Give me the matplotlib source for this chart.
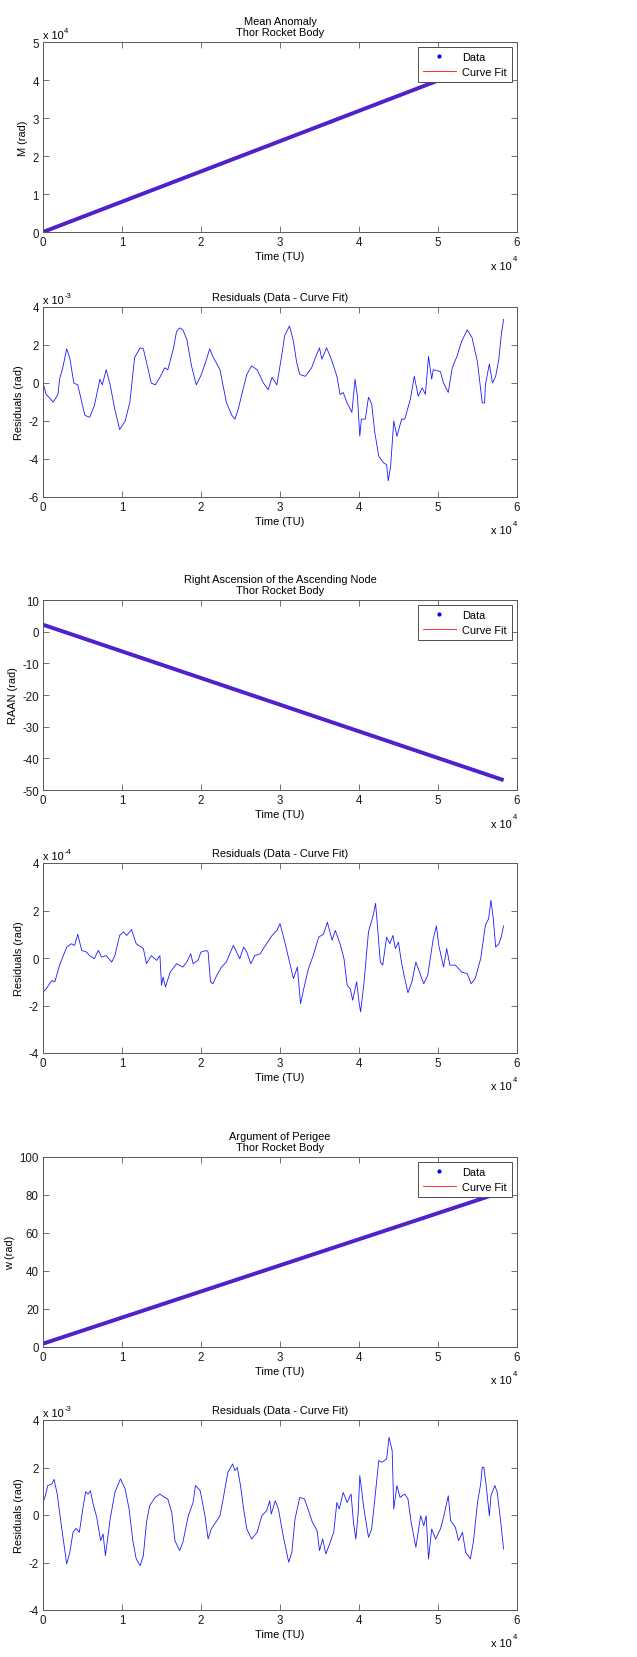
import numpy as np
import matplotlib as mpl
mpl.use('Agg')
import matplotlib.pyplot as plt
from matplotlib.lines import Line2D
from matplotlib.ticker import FuncFormatter

mpl.rcParams['font.family'] = ['Liberation Sans', 'DejaVu Sans']

# Time samples (in units of 1e4 TU) and residuals
res_m_t = [0, 0.04, 0.13, 0.19, 0.21, 0.25, 0.3, 0.34, 0.39, 0.44,
           0.53, 0.59, 0.65, 0.72, 0.75, 0.8, 0.85, 0.91, 0.97, 1.04,
           1.1, 1.16, 1.23, 1.27, 1.31, 1.37, 1.42, 1.48, 1.54, 1.58,
           1.65, 1.69, 1.73, 1.77, 1.82, 1.88, 1.94, 2.0, 2.07, 2.11,
           2.15, 2.24, 2.32, 2.39, 2.43, 2.47, 2.54, 2.58, 2.64, 2.71,
           2.79, 2.85, 2.9, 2.96, 3.02, 3.06, 3.12, 3.17, 3.21, 3.25,
           3.32, 3.4, 3.44, 3.5, 3.53, 3.59, 3.65, 3.72, 3.76, 3.8,
           3.85, 3.91, 3.95, 3.98, 4.01, 4.03, 4.08, 4.12, 4.16, 4.2,
           4.25, 4.31, 4.35, 4.37, 4.4, 4.44, 4.48, 4.54, 4.58, 4.65,
           4.7, 4.75, 4.8, 4.84, 4.88, 4.92, 4.94, 5.03, 5.07, 5.13,
           5.18, 5.24, 5.3, 5.37, 5.43, 5.5, 5.56, 5.59, 5.6, 5.65,
           5.69, 5.73, 5.77, 5.8, 5.83]
# units of 1e-3 rad
res_m = [0.0, -0.6, -1.0, -0.6, 0.2, 0.8, 1.8, 1.3, 0.0, -0.1,
         -1.7, -1.8, -1.2, 0.2, -0.1, 0.7, -0.1, -1.4, -2.45, -2.0,
         -1.0, 1.35, 1.85, 1.8, 1.1, 0.0, -0.1, 0.3, 0.8, 0.7,
         1.8, 2.7, 2.9, 2.8, 2.3, 0.9, -0.1, 0.4, 1.25, 1.8,
         1.4, 0.7, -1.0, -1.7, -1.9, -1.4, -0.2, 0.45, 0.9, 0.7,
         0.0, -0.35, 0.3, -0.1, 1.4, 2.5, 3.0, 2.2, 1.1, 0.45,
         0.35, 0.8, 1.25, 1.85, 1.25, 1.85, 1.25, 0.35, -0.6, -0.5,
         -1.05, -1.55, 0.2, -0.7, -2.8, -1.9, -1.9, -0.75, -1.1, -2.6,
         -3.85, -4.2, -4.3, -5.15, -4.4, -2.0, -2.8, -1.9, -1.9, -0.85,
         0.35, -0.7, -0.25, -0.6, 1.4, 0.2, 0.7, 0.6, 0.0, -0.5,
         0.8, 1.4, 2.2, 2.8, 2.4, 1.1, -1.05, -1.05, -0.1, 1.0,
         0.0, 0.35, 1.25, 2.5, 3.35]

res_raan_t = [0, 0.04, 0.11, 0.15, 0.21, 0.3, 0.36, 0.4, 0.44, 0.49,
              0.55, 0.59, 0.65, 0.7, 0.74, 0.8, 0.87, 0.91, 0.97, 1.02,
              1.06, 1.12, 1.18, 1.27, 1.31, 1.37, 1.44, 1.48, 1.5, 1.52,
              1.55, 1.61, 1.69, 1.77, 1.82, 1.87, 1.9, 1.96, 2.0, 2.07,
              2.09, 2.12, 2.15, 2.2, 2.26, 2.32, 2.41, 2.45, 2.49, 2.54,
              2.58, 2.63, 2.68, 2.75, 2.79, 2.83, 2.9, 2.96, 3.0, 3.04,
              3.08, 3.13, 3.17, 3.22, 3.26, 3.3, 3.36, 3.42, 3.49, 3.55,
              3.6, 3.66, 3.7, 3.76, 3.81, 3.85, 3.89, 3.92, 3.97, 4.0,
              4.02, 4.06, 4.12, 4.18, 4.21, 4.23, 4.27, 4.3, 4.35, 4.39,
              4.43, 4.46, 4.5, 4.53, 4.57, 4.62, 4.67, 4.72, 4.78, 4.82,
              4.87, 4.94, 4.98, 5.01, 5.07, 5.11, 5.15, 5.22, 5.3, 5.37,
              5.42, 5.47, 5.54, 5.6, 5.64, 5.67, 5.7, 5.73, 5.77, 5.8,
              5.83]
# units of 1e-4 rad
res_raan = [-1.43, -1.3, -0.95, -1.0, -0.3, 0.46, 0.6, 0.53, 1.0, 0.32,
            0.25, 0.1, -0.03, 0.32, 0.04, 0.1, -0.17, 0.1, 0.95, 1.1,
            0.95, 1.2, 0.6, 0.4, -0.24, 0.1, -0.1, 0.1, -1.15, -0.8,
            -1.22, -0.6, -0.24, -0.38, -0.17, 0.18, -0.24, -0.1, 0.25, 0.32,
            0.25, -1.0, -1.08, -0.73, -0.38, -0.17, 0.53, 0.25, -0.03, 0.46,
            0.25, -0.24, 0.1, 0.18, 0.4, 0.6, 0.95, 1.16, 1.45, 0.95,
            0.4, -0.3, -0.87, -0.38, -1.92, -1.3, -0.45, 0.1, 0.88, 1.0,
            1.5, 0.75, 1.16, 0.6, -0.03, -1.15, -1.3, -1.78, -1.0, -1.85,
            -2.27, -1.15, 1.1, 1.8, 2.3, 1.5, -0.17, -0.3, 0.88, 0.6,
            0.95, 0.4, 0.67, -0.03, -0.73, -1.46, -1.0, -0.17, -0.73, -1.08,
            -0.73, 0.81, 1.35, 0.53, -0.38, 0.4, -0.3, -0.3, -0.59, -0.66,
            -1.08, -0.87, -0.03, 1.38, 1.65, 2.43, 1.65, 0.46, 0.6, 0.88,
            1.35]

res_w_t = [0, 0.03, 0.06, 0.11, 0.14, 0.18, 0.21, 0.25, 0.3, 0.34,
           0.38, 0.42, 0.46, 0.51, 0.54, 0.57, 0.6, 0.63, 0.68, 0.73,
           0.76, 0.79, 0.85, 0.91, 0.98, 1.04, 1.09, 1.14, 1.18, 1.23,
           1.27, 1.31, 1.35, 1.42, 1.48, 1.54, 1.58, 1.63, 1.67, 1.73,
           1.77, 1.84, 1.9, 1.93, 1.99, 2.05, 2.09, 2.13, 2.2, 2.24,
           2.28, 2.34, 2.4, 2.43, 2.46, 2.5, 2.54, 2.58, 2.64, 2.71,
           2.77, 2.83, 2.87, 2.89, 2.94, 2.98, 3.04, 3.11, 3.15, 3.19,
           3.25, 3.31, 3.34, 3.41, 3.47, 3.5, 3.54, 3.58, 3.62, 3.68,
           3.72, 3.75, 3.8, 3.85, 3.9, 3.93, 3.96, 3.99, 4.01, 4.06,
           4.12, 4.16, 4.2, 4.25, 4.29, 4.35, 4.38, 4.42, 4.44, 4.48,
           4.52, 4.58, 4.62, 4.66, 4.72, 4.78, 4.82, 4.85, 4.88, 4.92,
           4.97, 5.03, 5.07, 5.13, 5.16, 5.22, 5.26, 5.31, 5.35, 5.41,
           5.45, 5.5, 5.54, 5.56, 5.58, 5.61, 5.65, 5.67, 5.72, 5.75,
           5.79, 5.83]
# units of 1e-3 rad
res_w = [0.53, 0.81, 1.24, 1.3, 1.5, 0.88, 0.11, -0.87, -2.06, -1.57,
         -0.73, -0.56, -0.73, 0.39, 0.98, 0.88, 1.02, 0.53, -0.1, -1.08,
         -0.8, -1.71, -0.17, 0.95, 1.52, 1.1, 0.25, -1.15, -1.85, -2.13,
         -1.71, -0.31, 0.39, 0.74, 0.88, 0.74, 0.67, 0.11, -1.08, -1.5,
         -1.15, -0.03, 0.53, 1.24, 1.02, -0.03, -1.01, -0.59, -0.24, -0.03,
         0.67, 1.8, 2.15, 1.87, 2.0, 1.24, 0.25, -0.59, -1.01, -0.73,
         -0.03, 0.18, 0.6, 0.04, 0.6, 0.25, -0.87, -1.99, -1.57, -0.17,
         0.74, 0.67, 0.39, -0.31, -0.66, -1.5, -1.01, -1.64, -1.29, -0.73,
         0.53, 0.25, 0.95, 0.53, 0.88, -0.31, -1.01, 0.11, 1.66, 0.32,
         -0.94, -0.59, 0.67, 2.29, 2.22, 2.36, 3.27, 2.71, 0.25, 1.24,
         0.74, 0.88, 0.67, -0.31, -1.36, -0.03, -0.45, -0.03, -1.85, -0.59,
         -1.01, -0.59, -0.1, 0.81, -0.24, -0.52, -1.08, -0.73, -1.57, -1.85,
         -1.08, 0.53, 1.3, 2.01, 2.01, 1.24, -0.03, 0.81, 1.24, 0.95,
         -0.17, -1.43]

# Linear curve fits: (intercept rad, slope rad/TU)
fit_m = (0.0, 0.797)
fit_raan = (2.2, -8.42e-4)
fit_w = (1.75, 1.374e-3)
t_end = 5.83e4

FS = 7.9
EXP_FS = 5.5
TICK_FS = 8.3
AX_COLOR = '0.35'

# axes boxes in pixels from the top of the 637x1658 figure
W, H = 637.0, 1658.0
AX_LEFT, AX_RIGHT = 43, 517
AX_TOPS = [43, 308, 601, 864, 1158, 1421]
AX_H = 190


def make_axes(fig, top):
    return fig.add_axes([AX_LEFT / W, 1 - (top + AX_H) / H,
                         (AX_RIGHT - AX_LEFT) / W, AX_H / H])


def exp_label(ax, x, y, exp, align):
    """
    MATLAB style 'x 10^n' multiplier, drawn as two plain texts so the minus
    stays a short hyphen.
    """
    exp = str(exp)
    exp_w = 3.2 * len(exp)  # points
    if align == 'right':
        ax.annotate(exp, (x, y), xycoords='axes fraction', xytext=(0, 4),
                    textcoords='offset points', ha='right', va='top',
                    fontsize=EXP_FS)
        ax.annotate('x 10', (x, y), xycoords='axes fraction',
                    xytext=(-exp_w - 0.5, 0), textcoords='offset points',
                    ha='right', va='top', fontsize=FS)
    else:
        ax.annotate('x 10', (x, y), xycoords='axes fraction', xytext=(0, 0),
                    textcoords='offset points', ha='left', va='bottom',
                    fontsize=FS)
        ax.annotate(exp, (x, y), xycoords='axes fraction', xytext=(15.3, 4),
                    textcoords='offset points', ha='left', va='bottom',
                    fontsize=EXP_FS)


def style_axes(ax, yticks, yscale, ylabel, title, yexp=None):
    ax.set_xlim(0, 6e4)
    ax.set_xticks(np.arange(0, 7) * 1e4)
    ax.xaxis.set_major_formatter(FuncFormatter(lambda v, p: '%d' % round(v / 1e4)))
    ax.set_ylim(yticks[0], yticks[-1])
    ax.set_yticks(yticks)
    ax.yaxis.set_major_formatter(FuncFormatter(lambda v, p: '%d' % round(v / yscale)))
    ax.tick_params(direction='in', top=True, right=True, length=4, width=0.6,
                   color=AX_COLOR, labelsize=TICK_FS, labelcolor='0.1', pad=3)
    for s in ax.spines.values():
        s.set_color(AX_COLOR)
        s.set_linewidth(0.7)
    ax.set_xlabel('Time (TU)', fontsize=FS, labelpad=2)
    ax.set_ylabel(ylabel, fontsize=FS, labelpad=3)
    ax.set_title(title, fontsize=FS, pad=5, linespacing=1.15)
    exp_label(ax, 1.0, -0.15, 4, 'right')
    if yexp is not None:
        exp_label(ax, 0.0, 1.012, yexp, 'left')


def plot_fit_panel(ax, t, res, res_scale, fit):
    t = np.asarray(t) * 1e4
    b, m = fit
    data = b + m * t + np.asarray(res) * res_scale
    ax.plot(t, data, color='b', lw=2.8, alpha=0.85, solid_capstyle='butt')
    tf = np.array([0, t_end])
    ax.plot(tf, b + m * tf, color='r', lw=0.6, alpha=0.8)
    handles = [Line2D([], [], color='b', ls='none', marker='.', ms=4),
               Line2D([], [], color='r', lw=0.7, alpha=0.8)]
    leg = ax.legend(handles, ['Data', 'Curve Fit'], loc='upper right',
                    fontsize=FS, fancybox=False, framealpha=1,
                    edgecolor='0.3', borderaxespad=0.45, handlelength=3.0,
                    handletextpad=0.6, borderpad=0.45, labelspacing=0.45)
    leg.get_frame().set_linewidth(0.7)


def plot_residual(ax, t, res, res_scale):
    ax.plot(np.asarray(t) * 1e4, np.asarray(res) * res_scale, color='b',
            lw=0.6, alpha=0.9)


assert len(res_m_t) == len(res_m)
assert len(res_raan_t) == len(res_raan)
assert len(res_w_t) == len(res_w)

fig = plt.figure(figsize=(6.37, 16.58), dpi=100)
axs = [make_axes(fig, top) for top in AX_TOPS]

# Mean anomaly
plot_fit_panel(axs[0], res_m_t, res_m, 1e-3, fit_m)
style_axes(axs[0], np.arange(0, 6) * 1e4, 1e4, 'M (rad)',
           'Mean Anomaly\nThor Rocket Body', yexp=4)
plot_residual(axs[1], res_m_t, res_m, 1e-3)
style_axes(axs[1], np.arange(-6, 5, 2) * 1e-3, 1e-3, 'Residuals (rad)',
           'Residuals (Data - Curve Fit)', yexp=-3)

# RAAN
plot_fit_panel(axs[2], res_raan_t, res_raan, 1e-4, fit_raan)
style_axes(axs[2], np.arange(-50, 11, 10), 1, 'RAAN (rad)',
           'Right Ascension of the Ascending Node\nThor Rocket Body')
plot_residual(axs[3], res_raan_t, res_raan, 1e-4)
style_axes(axs[3], np.arange(-4, 5, 2) * 1e-4, 1e-4, 'Residuals (rad)',
           'Residuals (Data - Curve Fit)', yexp=-4)

# Argument of perigee
plot_fit_panel(axs[4], res_w_t, res_w, 1e-3, fit_w)
style_axes(axs[4], np.arange(0, 101, 20), 1, 'w (rad)',
           'Argument of Perigee\nThor Rocket Body')
plot_residual(axs[5], res_w_t, res_w, 1e-3)
style_axes(axs[5], np.arange(-4, 5, 2) * 1e-3, 1e-3, 'Residuals (rad)',
           'Residuals (Data - Curve Fit)', yexp=-3)

fig.savefig('out.png', dpi=100)
plt.close(fig)
